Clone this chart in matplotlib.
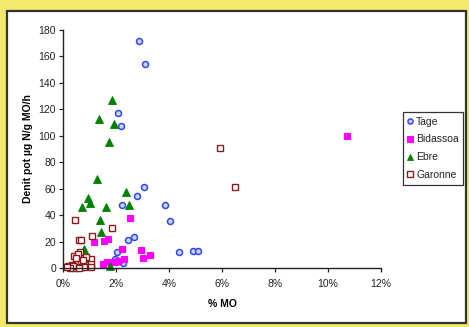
import numpy as np
import matplotlib.pyplot as plt
from matplotlib.patches import Rectangle
from matplotlib.ticker import FuncFormatter

plt.rcParams['font.family'] = ['Liberation Sans', 'DejaVu Sans']

# data (% MO, denit pot)
tage_x = [2.87, 3.09, 2.08, 2.19, 3.07, 2.78, 2.23, 3.85, 4.04, 2.69, 2.47,
          2.03, 4.36, 4.89, 5.08, 1.96, 2.28, 2.10]
tage_y = [172, 154, 117.5, 107.5, 61.5, 54.5, 48, 48, 35.8, 23.5, 21.2,
          12.3, 12.1, 12.8, 12.8, 6.6, 3.5, 5.0]

bid_x = [10.72, 2.53, 1.18, 1.55, 1.71, 2.23, 2.94, 3.28, 3.01, 2.31, 1.92,
         2.09, 1.67, 1.52, 1.96]
bid_y = [99.5, 37.8, 19.3, 20.1, 22.2, 14.3, 13.4, 10.2, 7.3, 6.7, 4.8,
         5.2, 4.5, 3.2, 4.2]

ebre_x = [1.85, 1.37, 1.91, 1.74, 1.27, 0.96, 1.02, 2.39, 2.49, 0.70, 1.63,
          1.41, 1.42, 0.79, 0.89, 1.77, 0.75, 0.83]
ebre_y = [127, 113, 109, 95, 67.5, 53, 49, 57.5, 48, 46, 46,
          36, 27.5, 14.2, 7.5, 1.5, 4.0, 2.0]

gar_x = [5.92, 6.49, 0.44, 1.84, 1.08, 0.60, 0.69, 0.43, 0.64, 1.07, 0.67,
         1.04, 0.87, 0.20, 0.28, 0.35, 0.42, 0.48, 0.52, 0.56, 0.60, 0.63,
         0.66, 0.70, 0.72, 0.76, 0.80, 0.55, 0.45, 0.38, 0.25, 0.62, 0.68,
         1.05, 0.15, 0.58, 0.74, 0.50]
gar_y = [91, 61, 36.2, 30, 24.3, 20.8, 21.1, 9.2, 12.2, 6.8, 7.4,
         3.0, 8.6, 1.5, 1.0, 2.0, 0.8, 1.5, 3.5, 0.5, 2.5, 4.5,
         1.2, 3.0, 0.6, 2.2, 1.0, 5.0, 0.3, 1.2, 0.2, 0.0, 5.5,
         1.0, 0.5, 10.5, 6.0, 7.5]

fig = plt.figure(figsize=(4.69, 3.27), dpi=100)
fig.patch.set_facecolor('#F2E96C')

# white panel with dark border, behind the axes
panel = Rectangle((7 / 469, 1 - 323 / 327), 459 / 469, 312 / 327,
                  transform=fig.transFigure, facecolor='white',
                  edgecolor='#333333', linewidth=1.6, zorder=-5)
fig.patches.append(panel)

ax = fig.add_axes([63 / 469, 1 - 268 / 327, 318 / 469, 238 / 327])
ax.set_facecolor('none')

ax.plot(tage_x, tage_y, 'o', ls='none', ms=4.3, mfc='#C8D8FF', mec='#3344FF',
        mew=1.1, label='Tage', clip_on=False)
ax.plot(bid_x, bid_y, 's', ls='none', ms=4.6, mfc='#FF00FF', mec='#FF00FF',
        mew=0.8, label='Bidassoa', clip_on=False)
ax.plot(ebre_x, ebre_y, '^', ls='none', ms=5.2, mfc='#008000', mec='#008000',
        mew=0.6, label='Ebre', clip_on=False)
ax.plot(gar_x, gar_y, 's', ls='none', ms=4.6, mfc='white', mec='#8B1A1A',
        mew=1.0, label='Garonne', clip_on=False)

ax.set_xlim(0, 12)
ax.set_ylim(0, 180)
ax.set_xticks(np.arange(0, 13, 2))
ax.set_yticks(np.arange(0, 181, 20))
ax.xaxis.set_major_formatter(FuncFormatter(lambda v, p: '%d%%' % v))
for s in ['top', 'right']:
    ax.spines[s].set_visible(False)
for s in ['left', 'bottom']:
    ax.spines[s].set_color('#222222')
    ax.spines[s].set_linewidth(1.0)
ax.tick_params(direction='out', length=3, width=0.9, labelsize=7.5,
               colors='#222222', pad=2)
ax.tick_params(axis='x', pad=5)

ax.set_xlabel('% MO', fontsize=7.5, fontweight='bold', labelpad=7)
ax.set_ylabel('Denit pot µg N/g MO/h', fontsize=7.5, fontweight='bold',
              labelpad=4)

leg = fig.legend(loc='upper left', bbox_to_anchor=(403 / 469, 1 - 112 / 327),
                 fontsize=7.5, frameon=True, fancybox=False, markerscale=0.85,
                 handlelength=0.5, handletextpad=0.3, borderpad=0.45,
                 borderaxespad=0, labelspacing=0.75)
leg.get_frame().set_edgecolor('black')
leg.get_frame().set_linewidth(0.9)
for t in leg.get_texts():
    t.set_color('#222222')

fig.savefig('out.png', dpi=100, facecolor=fig.get_facecolor())
